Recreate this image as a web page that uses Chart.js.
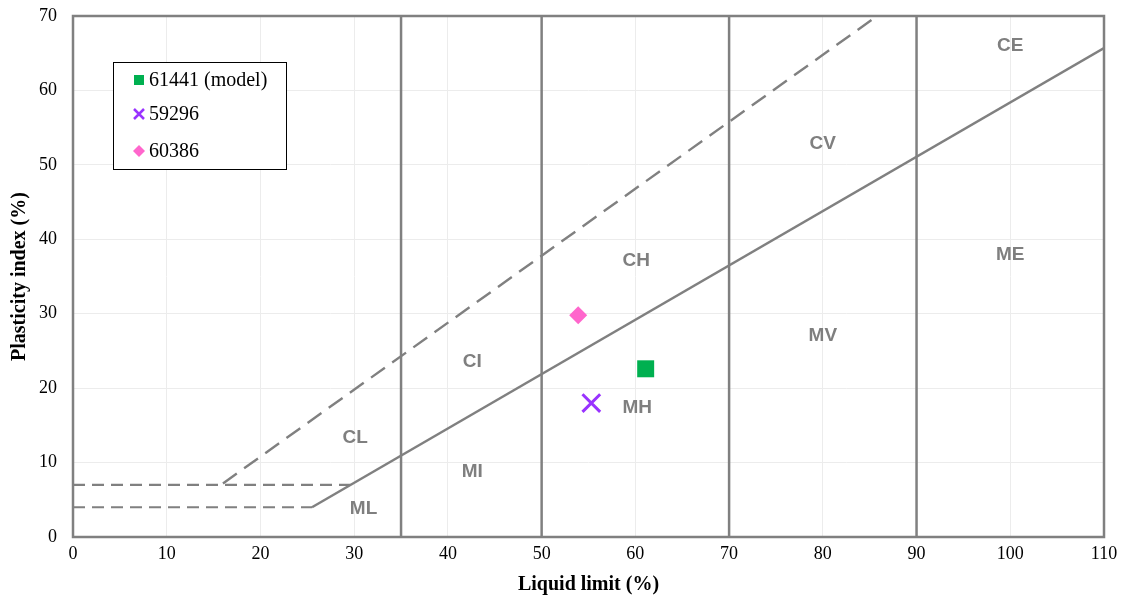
<!DOCTYPE html>
<html><head><meta charset="utf-8">
<script src="https://cdn.jsdelivr.net/npm/chart.js@4/dist/chart.umd.min.js"></script>
<style>html,body{margin:0;padding:0;background:#fff}</style></head>
<body><canvas id="c" width="1127" height="601"></canvas>
<script>
// ---- data ----
const sampleNames = ['61441 (model)', '59296', '60386'];
const sampleLL = [61.1, 55.3, 53.9];
const samplePI = [22.6, 18.0, 29.8];
const sampleColors = ['#00B050', '#9933FF', '#FF66CC'];
const sampleStyles = ['rect', 'crossRot', 'rectRot'];

const aLineLL = [25.5, 110];
const aLinePI = [4, 65.7];
const uLineLL = [16, 85.8];
const uLinePI = [7.2, 70];
const hi7LL = [0, 29.6];
const hi7PI = [7, 7];
const hi4LL = [0, 25.5];
const hi4PI = [4, 4];
const boundaryLL = [35, 50, 70, 90];

const zoneNames = ['CL', 'ML', 'CI', 'MI', 'CH', 'MH', 'CV', 'MV', 'CE', 'ME'];
const zoneLL = [30.1, 31.0, 42.6, 42.6, 60.1, 60.2, 80, 80, 100, 100];
const zonePI = [13.3, 3.8, 23.5, 8.7, 37.1, 17.3, 52.9, 27.0, 66.0, 37.9];

const xTicks = [0, 10, 20, 30, 40, 50, 60, 70, 80, 90, 100, 110];
const yTicks = [0, 10, 20, 30, 40, 50, 60, 70];

const pts = (xs, ys) => xs.map((x, i) => ({x: x, y: ys[i]}));
const GRAY = '#808080';
const SERIF = '"Liberation Serif", "Times New Roman", serif';

const datasets = [];
boundaryLL.forEach(v => datasets.push({
  data: [{x: v, y: 0}, {x: v, y: 70}], showLine: true, borderColor: GRAY,
  borderWidth: 2.5, pointRadius: 0, order: 5
}));
datasets.push({data: pts(aLineLL, aLinePI), showLine: true, borderColor: GRAY, borderWidth: 2.5, pointRadius: 0, order: 5});
datasets.push({data: pts(uLineLL, uLinePI), showLine: true, borderColor: GRAY, borderWidth: 2.4,
  borderDash: [17, 9], pointRadius: 0, order: 5});
[[hi7LL, hi7PI], [hi4LL, hi4PI]].forEach(p => datasets.push({
  data: pts(p[0], p[1]), showLine: true, borderColor: GRAY, borderWidth: 2.2,
  borderDash: [12, 7], pointRadius: 0, order: 5
}));
const sampleRadius = [12, 12.5, 9];
sampleNames.forEach((n, i) => datasets.push({
  label: n, data: [{x: sampleLL[i], y: samplePI[i]}], showLine: false,
  pointStyle: sampleStyles[i], pointRadius: sampleRadius[i], pointHoverRadius: sampleRadius[i],
  backgroundColor: sampleColors[i], borderColor: sampleColors[i],
  borderWidth: sampleStyles[i] === 'crossRot' ? 3 : 0, order: 1
}));

const overlay = {
  id: 'overlay',
  afterDatasetsDraw(chart) {
    const {ctx, chartArea: a, scales: {x, y}} = chart;
    ctx.save();
    ctx.strokeStyle = GRAY; ctx.lineWidth = 2.5;
    ctx.strokeRect(a.left, a.top, a.right - a.left, a.bottom - a.top);
    ctx.fillStyle = '#7f7f7f';
    ctx.font = 'bold 19px "Liberation Sans", Arial, sans-serif';
    ctx.textAlign = 'center'; ctx.textBaseline = 'middle';
    zoneNames.forEach((n, i) => ctx.fillText(n, x.getPixelForValue(zoneLL[i]), y.getPixelForValue(zonePI[i])));
    const L = 113, T = 62, W = 173, H = 107;
    ctx.fillStyle = '#fff'; ctx.fillRect(L, T, W, H);
    ctx.strokeStyle = '#000'; ctx.lineWidth = 1;
    ctx.strokeRect(L + 0.5, T + 0.5, W, H);
    const rows = [80, 114, 151];
    ctx.font = '20px ' + SERIF;
    ctx.textAlign = 'left';
    sampleNames.forEach((n, i) => {
      const cy = rows[i], cx = 139;
      ctx.fillStyle = sampleColors[i]; ctx.strokeStyle = sampleColors[i];
      if (sampleStyles[i] === 'rect') {
        ctx.fillRect(cx - 5, cy - 5, 10, 10);
      } else if (sampleStyles[i] === 'crossRot') {
        ctx.lineWidth = 2.5; ctx.beginPath();
        ctx.moveTo(cx - 5, cy - 5); ctx.lineTo(cx + 5, cy + 5);
        ctx.moveTo(cx + 5, cy - 5); ctx.lineTo(cx - 5, cy + 5); ctx.stroke();
      } else {
        ctx.beginPath(); ctx.moveTo(cx, cy - 6); ctx.lineTo(cx + 6, cy);
        ctx.lineTo(cx, cy + 6); ctx.lineTo(cx - 6, cy); ctx.closePath(); ctx.fill();
      }
      ctx.fillStyle = '#000';
      ctx.fillText(n, 149, cy + 1);
    });
    ctx.restore();
  }
};

new Chart(document.getElementById('c'), {
  type: 'scatter',
  data: {datasets},
  options: {
    responsive: false, animation: false,
    layout: {padding: {top: 16, right: 23, left: 4, bottom: 0}},
    plugins: {legend: {display: false}, tooltip: {enabled: false}},
    scales: {
      x: {
        type: 'linear', min: 0, max: 110,
        afterBuildTicks: s => { s.ticks = xTicks.map(v => ({value: v})); },
        afterFit: s => { s.height = 64; s.paddingLeft = 0; s.paddingRight = 0; },
        grid: {color: '#ececec', lineWidth: 1, drawTicks: false},
        border: {display: false},
        ticks: {color: '#000', padding: 6, font: {family: SERIF, size: 18}},
        title: {display: true, text: 'Liquid limit (%)', color: '#000', padding: {top: 2},
          font: {family: SERIF, size: 20, weight: 'bold'}}
      },
      y: {
        type: 'linear', min: 0, max: 70,
        afterBuildTicks: s => { s.ticks = yTicks.map(v => ({value: v})); },
        afterFit: s => { s.width = 69; s.paddingTop = 0; s.paddingBottom = 0; },
        grid: {color: '#ececec', lineWidth: 1, drawTicks: false},
        border: {display: false},
        ticks: {color: '#000', padding: 16, font: {family: SERIF, size: 18}},
        title: {display: true, text: 'Plasticity index (%)', color: '#000', padding: {bottom: 2},
          font: {family: SERIF, size: 20, weight: 'bold'}}
      }
    }
  },
  plugins: [overlay]
});
</script>
</body></html>
